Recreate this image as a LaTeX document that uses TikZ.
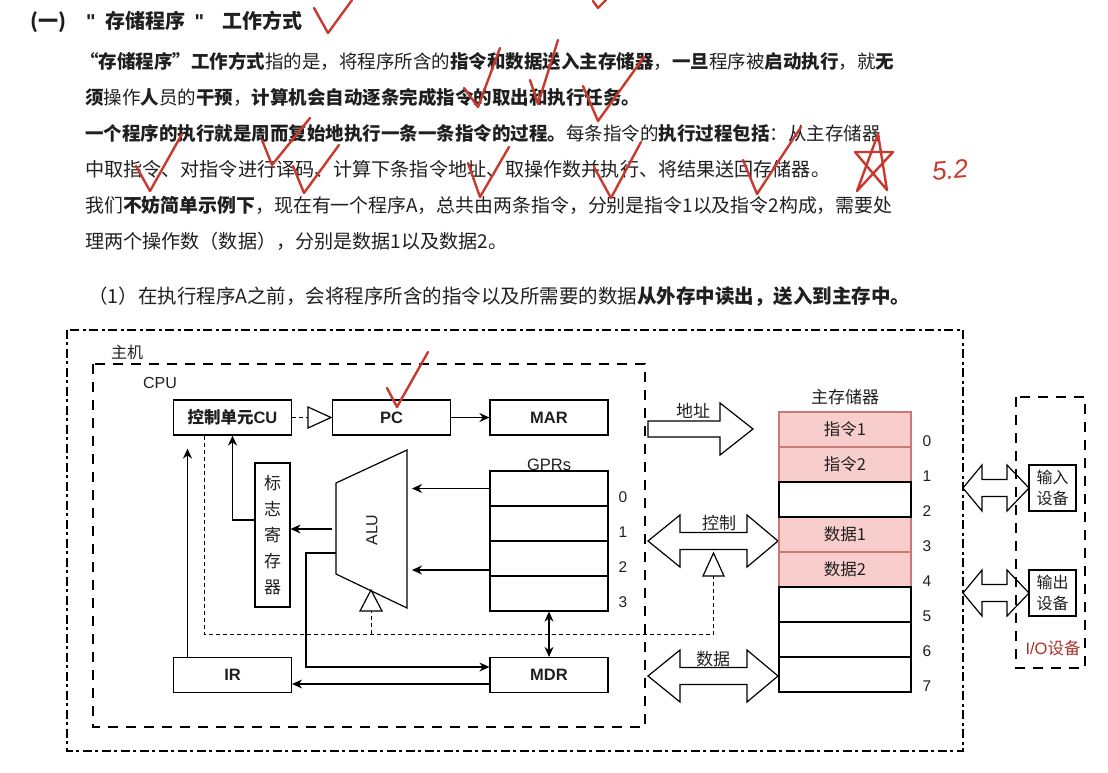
\documentclass[tikz,border=0pt]{standalone}
\usepackage{fontspec}
\setmainfont{Noto Sans CJK SC}
\newfontfamily\latinfont{Liberation Sans}
\usetikzlibrary{arrows.meta, calc}

\definecolor{inkgray}{HTML}{1F1F1F}
\definecolor{pinkfill}{HTML}{F8CECC}
\definecolor{pinkline}{HTML}{C77A76}
\definecolor{markred}{HTML}{C8392E}
\definecolor{iored}{HTML}{A8332B}

\begin{document}
\begin{tikzpicture}[x=1pt, y=-1pt, text=inkgray,
    para/.style={anchor=west, inner sep=0pt, font=\fontsize{18.5}{22}\selectfont},
    lbl/.style={inner sep=0pt, font=\fontsize{16}{18}\selectfont},
    num/.style={inner sep=0pt, font=\latinfont\fontsize{15.5}{16}\selectfont},
    box/.style={draw, line width=1.2pt, minimum width=118pt, minimum height=35pt, inner sep=0pt, font=\bfseries\fontsize{16.5}{18}\selectfont},
    cell/.style={draw, line width=1.2pt, minimum width=118pt, minimum height=35pt, inner sep=0pt},
    memcell/.style={draw, line width=1.2pt, minimum width=132pt, minimum height=35pt, inner sep=0pt, font=\fontsize{16.5}{18}\selectfont},
    pinkcell/.style={memcell, fill=pinkfill, draw=pinkline},
    iobox/.style={draw, fill=white, line width=1.2pt, minimum width=47pt, minimum height=46pt, inner sep=0pt, align=center, font=\fontsize{16}{21}\selectfont},
    host/.style={line width=2.6pt, dash pattern=on 9pt off 3pt on 3pt off 4pt},
    region/.style={line width=2.6pt, dash pattern=on 10pt off 8pt},
    ctrl/.style={line width=1pt, dash pattern=on 4pt off 3pt},
    link/.style={line width=1.3pt, -{Stealth[length=10pt,width=9pt]}},
    both/.style={line width=1.3pt, {Stealth[length=10pt,width=9pt]}-{Stealth[length=10pt,width=9pt]}},
    part/.style={line width=1.2pt},
    tri/.style={line width=1.2pt, fill=white},
    bus/.style={line width=1.2pt, fill=white, line join=miter},
    check/.style={draw=markred, line width=2.4pt, line cap=round, line join=round}]
    \useasboundingbox (0,0) rectangle (1108,772);

    % Titel und Text
    \node[anchor=west, inner sep=0pt, font=\bfseries\fontsize{20}{22}\selectfont] (title) at (30,22) {(一)\hspace{20pt}{\latinfont\char"22}\hspace{10pt}存储程序\hspace{9pt}{\latinfont\char"22}\hspace{18pt}工作方式};
    \node[para] (line1) at (80,61) {\textbf{“存储程序”工作方式}指的是，将程序所含的\textbf{指令和数据送入主存储器}，\textbf{一旦}程序被\textbf{启动执行}，就\textbf{无}};
    \node[para] (line2) at (85,97) {\textbf{须}操作\textbf{人}员的\textbf{干预}，\textbf{计算机会自动逐条完成指令的取出和执行任务。}};
    \node[para] (line3) at (85,133) {\textbf{一个程序的执行就是周而复始地执行一条一条指令的过程。}每条指令的\textbf{执行过程包括}：从主存储器};
    \node[para, font=\fontsize{19.1}{22}\selectfont] (line4) at (85,169) {中取指令、对指令进行译码、计算下条指令地址、取操作数并执行、将结果送回存储器。};
    \node[para, font=\fontsize{18.9}{22}\selectfont] (line5) at (85,205) {我们\textbf{不妨简单示例下}，现在有一个程序A，总共由两条指令，分别是指令1以及指令2构成，需要处};
    \node[para, font=\fontsize{19.1}{22}\selectfont] (line6) at (85,241) {理两个操作数（数据），分别是数据1以及数据2。};
    \node[para, font=\fontsize{19.5}{22}\selectfont] (line7) at (88,297) {（1）在执行程序A之前，会将程序所含的指令以及所需要的数据\textbf{从外存中读出，送入到主存中。}};

    % Rahmen
    \draw[host] (67,330) rectangle (963,751);
    \node[lbl] (hostlbl) at (127,352) {主机};
    \draw[region] (93,364) rectangle (645,727);
    \node[lbl, font=\latinfont\fontsize{16}{18}\selectfont] (cpulbl) at (160,383) {CPU};

    % Register
    \node[box] (cu) at (232.5,417.5) {控制单元{\latinfont CU}};
    \node[box] (pc) at (391.5,417.5) {\latinfont PC};
    \node[box] (mar) at (549,417.5) {\latinfont MAR};
    \node[box] (ir) at (232.5,675) {\latinfont IR};
    \node[box] (mdr) at (549,675) {\latinfont MDR};
    \foreach \i in {0,...,3} {
        \node[cell] (gpr\i) at (549,{488.5+35*\i}) {};
        \node[num] at (623,{497.5+35*\i}) {\i};
    }
    \node[anchor=south, inner sep=0pt, font=\latinfont\fontsize{16.5}{18}\selectfont] (gprlbl) at (gpr0.north) {GPRs};
    \node[draw, line width=1.2pt, minimum width=35pt, minimum height=144pt, inner sep=0pt, align=center, font=\fontsize{17}{26}\selectfont] (flag) at (272.5,535) {标\\志\\寄\\存\\器};

    % ALU
    \draw[part] (336,483) coordinate (alu-nw) -- (407,450) coordinate (alu-ne) -- (407,608) coordinate (alu-se) -- (336,574) coordinate (alu-sw) -- cycle;
    \node[rotate=90, inner sep=0pt, font=\latinfont\fontsize{16}{18}\selectfont] (alu) at (372,530) {ALU};
    \coordinate (alu-in0) at (412,488.5);
    \coordinate (alu-in1) at (412,570);
    \coordinate (alu-flag) at (332,529);
    \coordinate (alu-out) at (336,553);

    % Verbindungen
    \draw[link] (pc.east) -- (mar.west);
    \draw[link] (gpr0.west) -- (alu-in0);
    \draw[link] (alu-in1 -| gpr0.west) -- (alu-in1);
    \draw[link] (alu-flag) -- (alu-flag -| flag.east);
    \draw[link] ([yshift=15pt]flag.west) -| (cu.south);
    \draw[link] ([xshift=-45pt]ir.north) -- ([xshift=-45pt,yshift=-13pt]cu.south);
    \draw[link] (alu-out) -- ++(-30,0) |- ([yshift=8pt]mdr.west);
    \draw[link] ([yshift=-9pt]mdr.west) -- ([yshift=-9pt]ir.east);
    \draw[both] (gpr3.south) -- (mdr.north);

    % Steuersignale
    \draw[ctrl] (cu.east) -- (308,417.5);
    \draw[tri] (308,407) -- (331,417.5) -- (308,428) -- cycle;
    \draw[ctrl] ([xshift=-28.5pt]cu.south) |- (713.5,634) -- (713.5,576);
    \draw[ctrl] (371,634) -- (371,611);
    \draw[tri] (360,611) -- (371,590) -- (382,611) -- cycle;

    % Busse
    \draw[bus] (648,421) -- (720,421) -- (720,403) -- (753,429) -- (720,455) -- (720,437) -- (648,437) -- cycle;
    \draw[bus] (648,541) -- ++(32,-26) -- ++(0,17.5) -- ++(67,0) -- ++(0,-17.5) -- ++(31,26) -- ++(-31,26) -- ++(0,-17.5) -- ++(-67,0) -- ++(0,17.5) -- cycle;
    \draw[bus] (648,676) -- ++(32,-26) -- ++(0,17.5) -- ++(67,0) -- ++(0,-17.5) -- ++(31,26) -- ++(-31,26) -- ++(0,-17.5) -- ++(-67,0) -- ++(0,17.5) -- cycle;
    \draw[tri] (703,576) -- (713.5,553) -- (724,576) -- cycle;
    \node[lbl, font=\fontsize{17}{18}\selectfont] (addrlbl) at (693,411) {地址};
    \node[lbl, font=\fontsize{17}{18}\selectfont] (ctrllbl) at (719,523) {控制};
    \node[lbl, font=\fontsize{17}{18}\selectfont] (datalbl) at (713,659) {数据};

    % Hauptspeicher
    \node[lbl, font=\fontsize{17}{18}\selectfont] (memlbl) at (845,397) {主存储器};
    \foreach \i/\t in {0/指令1, 1/指令2, 3/数据1, 4/数据2}
        \node[pinkcell] (m\i) at (845,{429.5+35*\i}) {\t};
    \foreach \i in {2,5,6,7}
        \node[memcell] (m\i) at (845,{429.5+35*\i}) {};
    \foreach \i in {0,...,7}
        \node[num] at (927,{441+35*\i}) {\i};

    % E/A-Geraete
    \draw[bus] (963,488) -- ++(19,-23) -- ++(0,14.5) -- ++(25,0) -- ++(0,-14.5) -- ++(22,23) -- ++(-22,23) -- ++(0,-14.5) -- ++(-25,0) -- ++(0,14.5) -- cycle;
    \draw[bus] (963,593) -- ++(19,-23) -- ++(0,14.5) -- ++(25,0) -- ++(0,-14.5) -- ++(22,23) -- ++(-22,23) -- ++(0,-14.5) -- ++(-25,0) -- ++(0,14.5) -- cycle;
    \draw[region] (1016,397) rectangle (1085,668);
    \node[iobox] (inp) at (1052.5,488) {输入\\设备};
    \node[iobox] (outp) at (1052.5,593) {输出\\设备};
    \node[inner sep=0pt, text=iored, font=\fontsize{16.5}{18}\selectfont] (iolbl) at (1053,648) {{\latinfont I/O}设备};

    % Haken
    \draw[check] (314,8) -- (328,33) -- (352,0);
    \draw[check] (593,1) -- (598,8) -- (606,0);
    \draw[check] (464,88) -- (478,107) -- (500,48);
    \draw[check] (530,80) -- (538,104) -- (558,40);
    \draw[check] (583,86) -- (598,121) -- (644,57);
    \draw[check] (136,166) -- (150,191) -- (182,134);
    \draw[check] (262,140) -- (272,165) -- (310,118);
    \draw[check] (293,166) -- (304,193) -- (339,145);
    \draw[check] (468,163) -- (480,197) -- (509,147);
    \draw[check] (594,167) -- (611,198) -- (641,142);
    \draw[check] (743,160) -- (757,194) -- (801,127);
    \draw[check] (387,388) -- (397,407) -- (428,352);
    \draw[check] (878,134) -- (857,191) -- (893,152) -- (855,152) -- (887,190) -- cycle;
    \node[inner sep=0pt, text=markred, rotate=5, font=\latinfont\itshape\fontsize{26}{26}\selectfont] (note) at (950,170) {5.2};
\end{tikzpicture}
\end{document}
